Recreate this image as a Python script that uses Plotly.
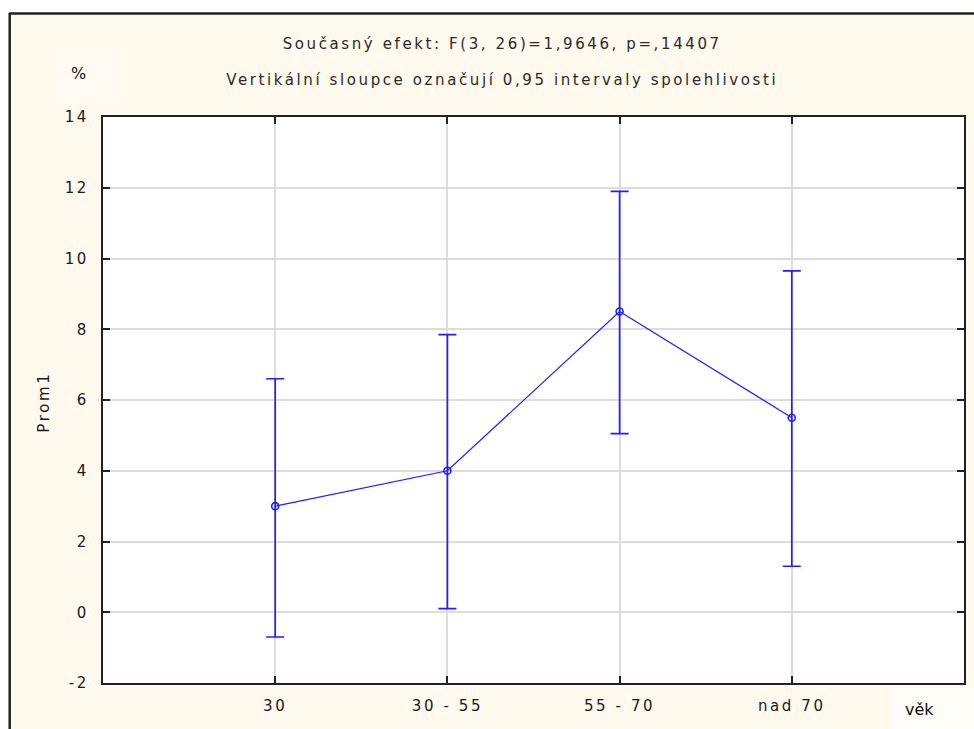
import plotly.graph_objects as go

categories = ["30", "30 - 55", "55 - 70", "nad 70"]
means = [3.0, 4.0, 8.5, 5.5]
upper = [6.6, 7.85, 11.9, 9.65]
lower = [-0.7, 0.1, 5.05, 1.3]
y_ticks = [-2, 0, 2, 4, 6, 8, 10, 12, 14]
y_tick_text = ["-2", "0", "2", "4", "6", "8", "10", "12", "14"]

title1 = "Současný efekt: F(3, 26)=1,9646, p=,14407"
title2 = "Vertikální sloupce označují 0,95 intervaly spolehlivosti"

W, H = 974, 729
L, R, T, B = 103, 8, 117, 46
pw, ph = W - L - R, H - T - B


def px(x):
    return (x - L) / pw


def py(y):
    return (H - B - y) / ph


plus = [u - m for u, m in zip(upper, means)]
minus = [m - l for m, l in zip(means, lower)]

blue = "#1f1fff"
font = "DejaVu Sans"
tc = "#1a1a1a"
fs = 15

fig = go.Figure()
fig.add_trace(go.Scatter(
    x=categories, y=means, mode="lines+markers",
    line=dict(color=blue, width=1.2),
    marker=dict(symbol="circle-open", size=7, color=blue, line=dict(width=1.6)),
    error_y=dict(type="data", symmetric=False, array=plus, arrayminus=minus,
                 color=blue, thickness=1.7, width=9),
    showlegend=False, hoverinfo="skip",
))

cream = "#fff9ee"
axis_common = dict(showgrid=True, gridcolor="#dcdcdc", gridwidth=1.5,
                   showline=True, linecolor="#222", linewidth=2, mirror="ticks",
                   ticks="inside", ticklen=7, tickwidth=1.5, tickcolor="#222",
                   zeroline=False, tickfont=dict(family=font, size=fs, color=tc))
fig.update_layout(
    width=W, height=H,
    margin=dict(l=L, r=R, t=T, b=B, pad=0),
    paper_bgcolor=cream, plot_bgcolor="white",
    font=dict(family=font, size=fs, color=tc),
    xaxis=dict(type="category", categoryorder="array", categoryarray=categories,
               range=[-1, 4], ticklabelstandoff=8, **axis_common),
    yaxis=dict(range=[-2, 14], tickvals=y_ticks, ticktext=y_tick_text,
               ticklabelstandoff=9, **axis_common),
    shapes=[
        dict(type="rect", xref="paper", yref="paper", x0=px(52), x1=px(122),
             y0=py(97), y1=py(48), fillcolor="#fffbf3", line=dict(width=0), layer="below"),
        dict(type="rect", xref="paper", yref="paper", x0=px(893), x1=px(980),
             y0=py(735), y1=py(688), fillcolor="#fffdf8", line=dict(width=0), layer="below"),
        dict(type="rect", xref="paper", yref="paper", x0=px(-5), x1=px(980),
             y0=py(12), y1=py(-5), fillcolor="white", line=dict(width=0), layer="above"),
        dict(type="rect", xref="paper", yref="paper", x0=px(-5), x1=px(8),
             y0=py(735), y1=py(-5), fillcolor="white", line=dict(width=0), layer="above"),
        dict(type="line", xref="paper", yref="paper", x0=px(9), x1=px(980),
             y0=py(13.5), y1=py(13.5), line=dict(color="#222", width=2.5), layer="above"),
        dict(type="line", xref="paper", yref="paper", x0=px(9.5), x1=px(9.5),
             y0=py(13), y1=py(735), line=dict(color="#222", width=2.5), layer="above"),
    ],
    annotations=[
        dict(text=title1, xref="paper", yref="paper", x=px(503), y=py(44),
             showarrow=False, xanchor="center", yanchor="middle",
             font=dict(family=font, size=fs, color="#2a2a2a")),
        dict(text=title2, xref="paper", yref="paper", x=px(503), y=py(80),
             showarrow=False, xanchor="center", yanchor="middle",
             font=dict(family=font, size=fs, color="#2a2a2a")),
        dict(text="%", xref="paper", yref="paper", x=px(78), y=py(74),
             showarrow=False, xanchor="center", yanchor="middle",
             font=dict(family=font, size=16, color="#111")),
        dict(text="Prom1", xref="paper", yref="paper", x=px(44), y=py(402),
             showarrow=False, xanchor="center", yanchor="middle", textangle=-90,
             font=dict(family=font, size=fs, color=tc)),
        dict(text="věk", xref="paper", yref="paper", x=px(921), y=py(710),
             showarrow=False, xanchor="center", yanchor="middle",
             font=dict(family=font, size=16, color="#111")),
    ],
)

post = """
document.body.style.margin = '0';
document.body.style.padding = '0';
document.querySelectorAll('.main-svg text').forEach(function(t){
  var s = t.textContent;
  if (s !== '%' && s !== 'věk') { t.setAttribute('letter-spacing', '2.6px'); }
});
"""

fig.write_html("out.html", post_script=post, config={"displayModeBar": False})
